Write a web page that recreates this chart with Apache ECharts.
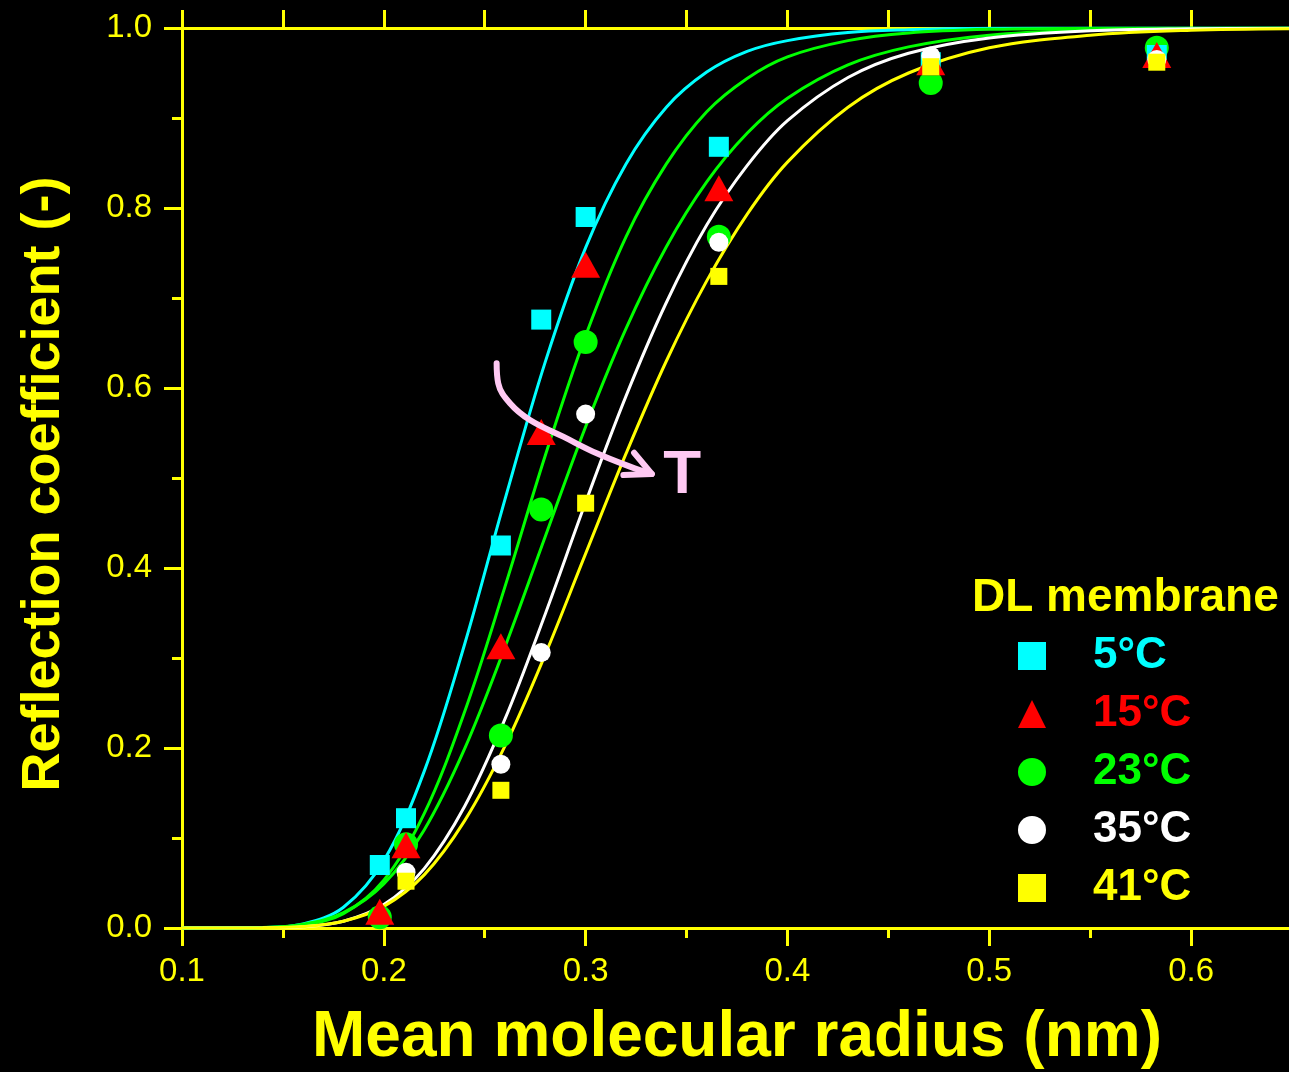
<!DOCTYPE html>
<html>
<head>
<meta charset="utf-8">
<script src="https://cdn.jsdelivr.net/npm/echarts@6/dist/echarts.min.js"></script>
<style>
html,body{margin:0;padding:0;background:#000;}
#chart{width:1289px;height:1072px;}
</style>
</head>
<body>
<div id="chart"></div>
<script>
// ---------- data ----------
const radius = [0.198, 0.211, 0.258, 0.278, 0.300, 0.366, 0.471, 0.583];
const sigma5  = [0.070, 0.122, 0.425, 0.676, 0.790, 0.868, 0.962, 0.970];
const sigma15 = [0.018, 0.092, 0.313, 0.551, 0.737, 0.822, 0.962, 0.970];
const sigma23 = [0.012, 0.093, 0.214, 0.465, 0.651, 0.768, 0.939, 0.978];
const sigma35 = [null,  0.062, 0.182, 0.306, 0.571, 0.762, 0.969, 0.965];
const sigma41 = [null,  0.052, 0.153, null,  0.472, 0.724, 0.957, 0.962];

// fitted curves
const fitX   = [0.10, 0.14, 0.16, 0.18, 0.20, 0.22, 0.24, 0.26, 0.28, 0.30, 0.32, 0.34, 0.36, 0.38, 0.40, 0.43, 0.46, 0.50, 0.55, 0.60, 0.65];
const fit5   = [0, 0.0005, 0.0044, 0.023, 0.075, 0.174, 0.315, 0.476, 0.629, 0.756, 0.849, 0.912, 0.951, 0.974, 0.986, 0.995, 0.998, 0.9996, 1.0, 1.0, 1.0];
const fit15  = [0, 0.0003, 0.0031, 0.016, 0.053, 0.127, 0.240, 0.379, 0.525, 0.658, 0.768, 0.849, 0.907, 0.944, 0.968, 0.986, 0.9945, 0.9985, 0.9997, 1.0, 1.0];
const fit23  = [0, 0.0006, 0.0042, 0.017, 0.049, 0.109, 0.199, 0.312, 0.435, 0.557, 0.666, 0.757, 0.829, 0.883, 0.922, 0.959, 0.979, 0.992, 0.9976, 0.9993, 0.9998];
const fit35  = [0, 0.0002, 0.0014, 0.0075, 0.026, 0.066, 0.135, 0.232, 0.349, 0.473, 0.591, 0.695, 0.781, 0.847, 0.897, 0.945, 0.972, 0.989, 0.997, 0.9992, 0.9998];
const fit41  = [0, 0.0002, 0.0016, 0.0075, 0.024, 0.059, 0.119, 0.202, 0.304, 0.416, 0.527, 0.630, 0.719, 0.793, 0.851, 0.912, 0.950, 0.978, 0.992, 0.9975, 0.9992];

const seriesNames = ['5°C', '15°C', '23°C', '35°C', '41°C'];
const legendTitle = 'DL membrane';
const xTitle = 'Mean molecular radius (nm)';
const yTitle = 'Reflection coefficient (-)';

// annotation arrow ("T" = increasing temperature), in data units
const arrowShaftX = [0.2559, 0.2567, 0.2625, 0.2724, 0.2889, 0.3055, 0.3220, 0.3328];
const arrowShaftY = [0.6274, 0.6052, 0.5830, 0.5644, 0.5459, 0.5274, 0.5126, 0.5044];
const arrowHeadX  = [0.3240, 0.3328, 0.3187];
const arrowHeadY  = [0.5281, 0.5044, 0.5033];
const arrowLabel  = {x: 0.3478, y: 0.5022, text: 'T'};

// ---------- build ----------
const FONT = '"Liberation Sans", Arial, sans-serif';
const YEL = '#ffff00';
const PINK = '#ffc9f3';
const pair = (xs, ys) => xs.map((x, i) => [x, ys[i]]).filter(p => p[1] !== null);

const fitSeries = (name, ys, c) => ({
  name, type: 'line', data: pair(fitX, ys), smooth: 0.35, showSymbol: false,
  lineStyle: {color: c, width: 3}, itemStyle: {color: c}, silent: true, z: 2
});
const scat = (name, ys, c, symbol, size, z) => ({
  name, type: 'scatter', data: pair(radius, ys), symbol, symbolSize: size,
  itemStyle: {color: c, opacity: 1}, z
});

const chart = echarts.init(document.getElementById('chart'), null, {renderer: 'canvas'});

const tickFmt = v => (v <= 0.6001 ? v.toFixed(1) : '');

const option = {
  backgroundColor: '#000000',
  animation: false,
  textStyle: {fontFamily: FONT},
  title: {
    text: legendTitle, left: 972, top: 575, padding: 0,
    textStyle: {color: YEL, fontSize: 46, fontWeight: 'bold', fontFamily: FONT}
  },
  legend: {
    orient: 'vertical', left: 1018, top: 634, itemWidth: 28, itemHeight: 28, itemGap: 14,
    padding: 0, selectedMode: false,
    formatter: name => '{g|}' + name,
    textStyle: {fontSize: 44, fontWeight: 'bold', fontFamily: FONT,
                rich: {g: {width: 42}}},
    data: [
      {name: seriesNames[0], textStyle: {color: '#00ffff'}},
      {name: seriesNames[1], textStyle: {color: '#ff0000'}},
      {name: seriesNames[2], textStyle: {color: '#00ff00'}},
      {name: seriesNames[3], textStyle: {color: '#ffffff'}},
      {name: seriesNames[4], textStyle: {color: YEL}}
    ]
  },
  grid: {left: 182, top: 28, right: -3, bottom: 144, containLabel: false, outerBoundsMode: 'none'},
  xAxis: [{
    type: 'value', min: 0.1, max: 0.65, interval: 0.1, position: 'bottom',
    name: xTitle, nameLocation: 'middle', nameGap: 78,
    nameTextStyle: {color: YEL, fontSize: 64, fontWeight: 'bold', fontFamily: FONT},
    axisLine: {show: true, onZero: false, lineStyle: {color: YEL, width: 3}},
    axisTick: {show: true, inside: false, length: 18, lineStyle: {color: YEL, width: 3}},
    minorTick: {show: true, splitNumber: 2, length: 10, lineStyle: {color: YEL, width: 3}},
    axisLabel: {color: YEL, fontSize: 33, margin: 27, formatter: tickFmt, fontFamily: FONT},
    splitLine: {show: false}, minorSplitLine: {show: false}
  }, {
    type: 'value', min: 0.1, max: 0.65, interval: 0.05, position: 'top',
    axisLine: {show: true, onZero: false, lineStyle: {color: YEL, width: 3}},
    axisTick: {show: true, inside: false, length: 18, lineStyle: {color: YEL, width: 3}},
    axisLabel: {show: false}, splitLine: {show: false}
  }],
  yAxis: [{
    type: 'value', min: 0, max: 1, interval: 0.2,
    name: yTitle, nameLocation: 'middle', nameGap: 111,
    nameTextStyle: {color: YEL, fontSize: 54, fontWeight: 'bold', fontFamily: FONT,
                    padding: [0, 12, 0, 0]},
    axisLine: {show: true, onZero: false, lineStyle: {color: YEL, width: 3}},
    axisTick: {show: true, inside: false, length: 18, lineStyle: {color: YEL, width: 3}},
    minorTick: {show: true, splitNumber: 2, length: 10, lineStyle: {color: YEL, width: 3}},
    axisLabel: {color: YEL, fontSize: 33, margin: 30, formatter: v => v.toFixed(1), fontFamily: FONT},
    splitLine: {show: false}, minorSplitLine: {show: false}
  }],
  series: [
    fitSeries('fit 5°C', fit5, '#00ffff'),
    fitSeries('fit 15°C', fit15, '#00ff00'),
    fitSeries('fit 23°C', fit23, '#00ff00'),
    fitSeries('fit 35°C', fit35, '#ffffff'),
    fitSeries('fit 41°C', fit41, YEL),
    scat(seriesNames[2], sigma23, '#00ff00', 'circle', 24, 3),
    scat(seriesNames[0], sigma5, '#00ffff', 'rect', 20, 4),
    scat(seriesNames[1], sigma15, '#ff0000', 'triangle', [29, 26], 5),
    scat(seriesNames[3], sigma35, '#ffffff', 'circle', 19, 6),
    scat(seriesNames[4], sigma41, YEL, 'rect', 17, 7),
    {
      name: 'arrow', type: 'line', data: pair(arrowShaftX, arrowShaftY), smooth: 0.4,
      showSymbol: false, silent: true, z: 8,
      lineStyle: {color: PINK, width: 6, cap: 'round', join: 'round', opacity: 1}
    },
    {
      name: 'arrowhead', type: 'line', data: pair(arrowHeadX, arrowHeadY),
      showSymbol: false, silent: true, z: 8,
      lineStyle: {color: PINK, width: 6, cap: 'round', join: 'round', opacity: 1}
    },
    {
      name: 'arrowLabel', type: 'scatter', data: [[arrowLabel.x, arrowLabel.y]],
      symbolSize: 1, silent: true, z: 9,
      itemStyle: {color: PINK, opacity: 1},
      label: {show: true, position: 'inside', formatter: arrowLabel.text, opacity: 1,
              color: PINK, fontSize: 62, fontWeight: 'bold', fontFamily: FONT,
              textBorderWidth: 0}
    }
  ]
};
chart.setOption(option);
</script>
</body>
</html>
